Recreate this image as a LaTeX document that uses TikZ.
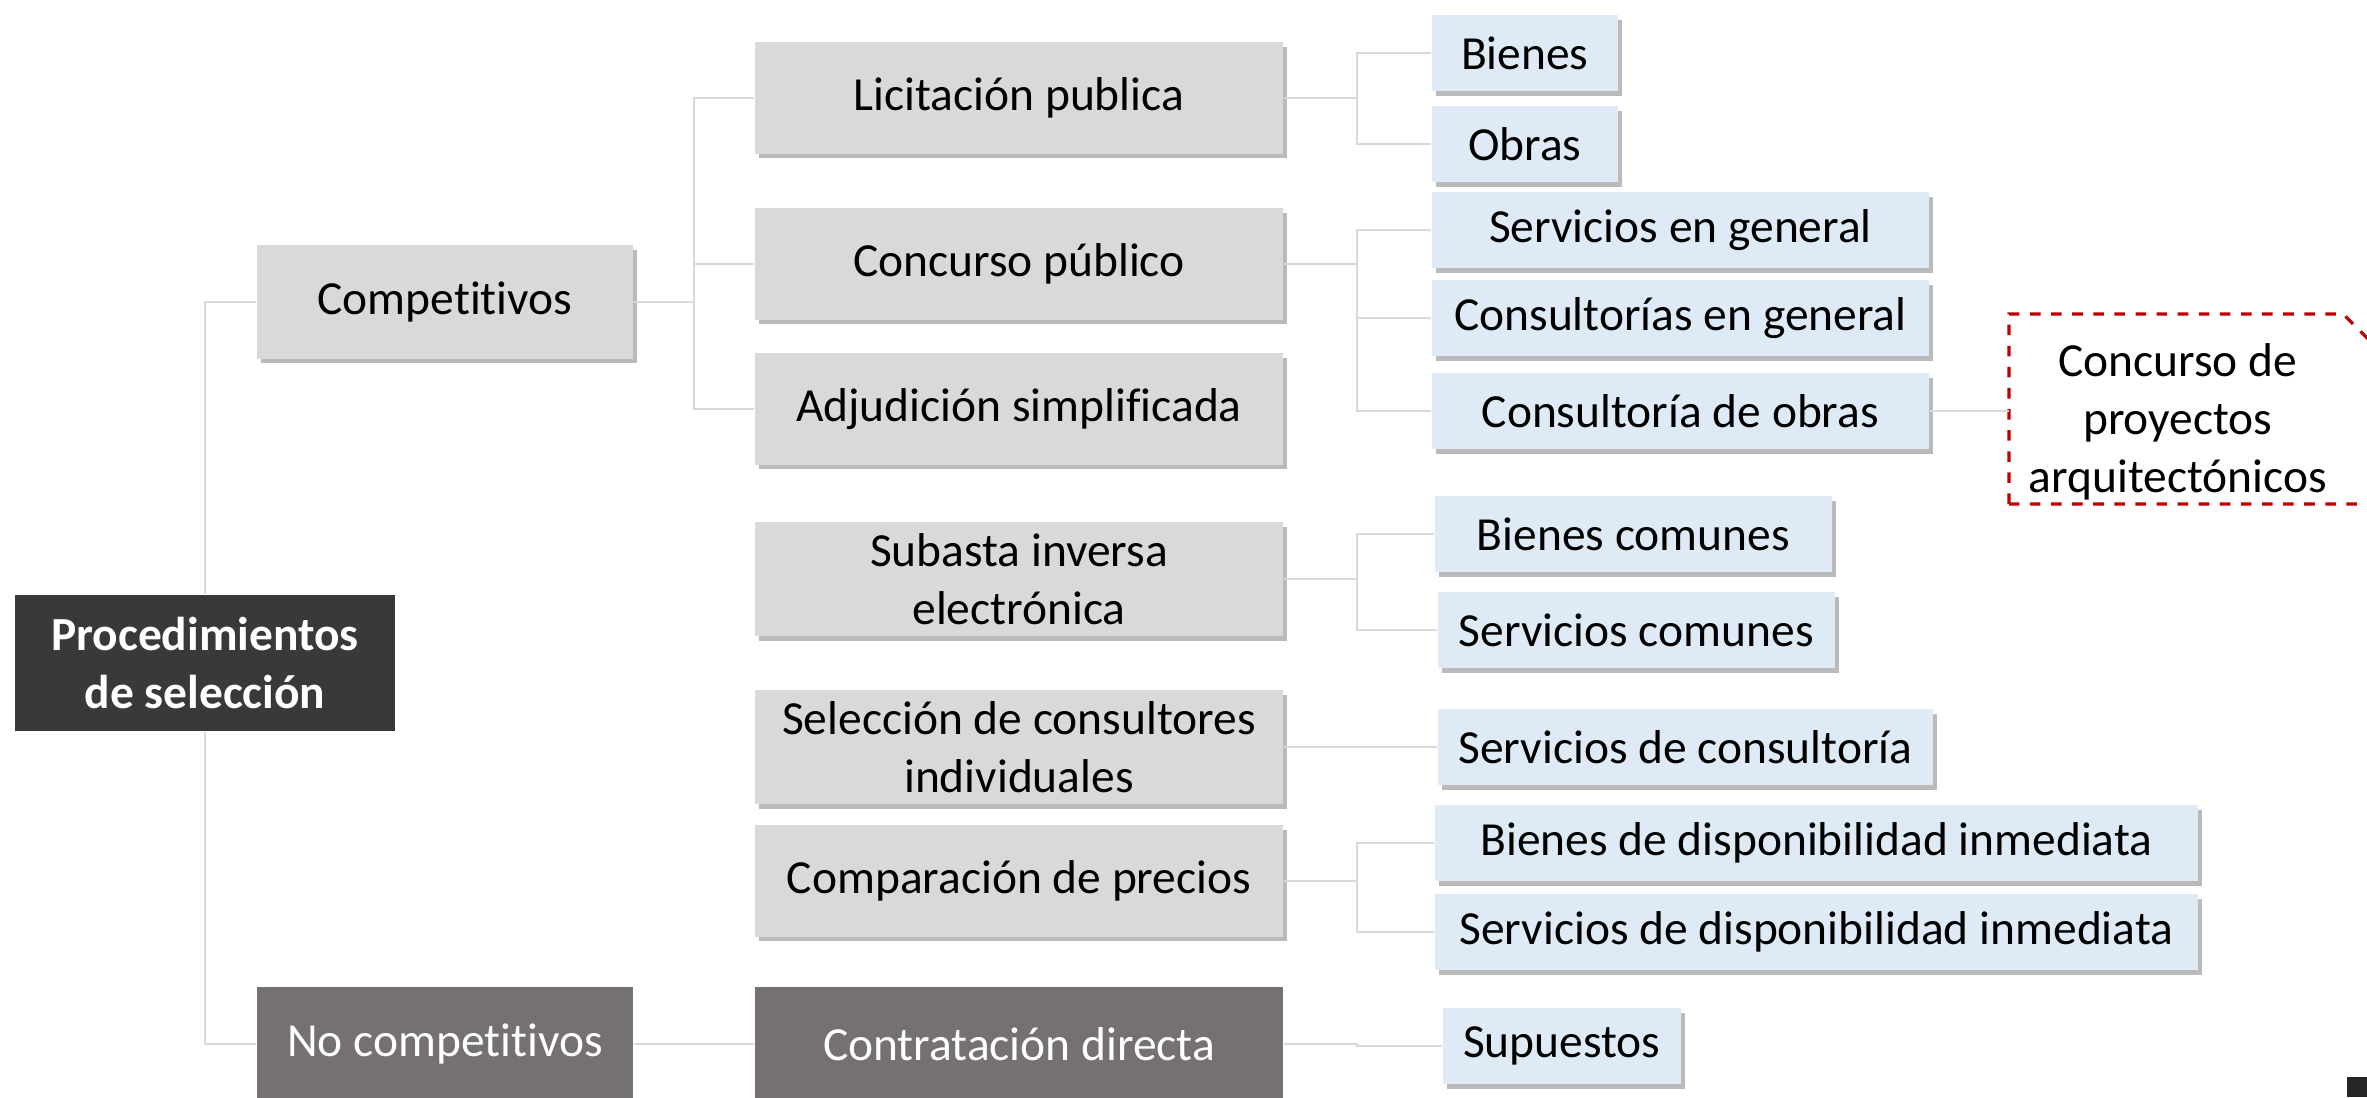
\documentclass[tikz,border=0pt]{standalone}
\usepackage{fontspec}
\setmainfont{Carlito}[RawFeature={-liga;-clig;-calt;-dlig}]
\usepackage{xcolor}
\usepackage{tikz}
\usetikzlibrary{shadows}
\definecolor{rootgray}{HTML}{3B3838}
\definecolor{nogray}{HTML}{767171}
\definecolor{boxgray}{HTML}{D9D9D9}
\definecolor{boxblue}{HTML}{DEEBF7}
\definecolor{linegray}{HTML}{D9D9D9}
\definecolor{dashred}{HTML}{C00000}

\begin{document}
\begin{tikzpicture}[x=0.01cm, y=-0.01cm, font=\fontsize{13.5}{16.5}\selectfont,
 shdw/.style = {drop shadow={shadow xshift=1.1pt, shadow yshift=-1.4pt, fill=black!45, opacity=0.6}},
 root/.style = {fill=rootgray, text=white, font=\fontsize{13.5}{16.5}\selectfont\bfseries, align=center, minimum width=3.79cm, minimum height=1.36cm},
 grp/.style = {fill=boxgray, minimum width=3.76cm, minimum height=1.13cm, shdw},
 nogrp/.style = {fill=nogray, text=white, minimum width=3.76cm, minimum height=1.13cm},
 proc/.style = {fill=boxgray, align=center, minimum width=5.28cm, minimum height=1.11cm, shdw},
 noproc/.style = {fill=nogray, text=white, minimum width=5.28cm, minimum height=1.13cm},
 item/.style = {fill=boxblue, anchor=west, minimum height=0.76cm, shdw},
 conn/.style = {draw=linegray, line width=0.6pt}]
\clip (0,0) rectangle (2367,1097);

\node[root] (ps) at (205,663) {Procedimientos\\de selección};
\node[grp] (comp) at (445,302) {Competitivos};
\node[nogrp] (nocomp) at (445,1044) {No competitivos};

\node[proc] (lp) at (1019,98) {Licitación publica};
\node[proc] (cp) at (1019,264) {Concurso público};
\node[proc] (as) at (1019,409) {Adjudición simplificada};
\node[proc] (sie) at (1019,579) {Subasta inversa\\electrónica};
\node[proc] (sci) at (1019,747) {Selección de consultores\\individuales};
\node[proc] (cpr) at (1019,881) {Comparación de precios};
\node[noproc] (cd) at (1019,1044) {Contratación directa};

\node[item, minimum width=1.86cm] (b) at (1431,53) {Bienes};
\node[item, minimum width=1.86cm] (o) at (1431,144) {Obras};
\node[item, minimum width=4.97cm] (sg) at (1431,230) {Servicios en general};
\node[item, minimum width=4.97cm] (cg) at (1431,318) {Consultorías en general};
\node[item, minimum width=4.97cm] (co) at (1431,411) {Consultoría de obras};
\node[item, minimum width=3.97cm] (bc) at (1434,534) {Bienes comunes};
\node[item, minimum width=3.97cm] (sc) at (1437,630) {Servicios comunes};
\node[item, minimum width=4.95cm] (scons) at (1437,747) {Servicios de consultoría};
\node[item, minimum width=7.63cm] (bdi) at (1434,843) {Bienes de disponibilidad inmediata};
\node[item, minimum width=7.63cm] (sdi) at (1434,932) {Servicios de disponibilidad inmediata};
\node[item, minimum width=2.38cm] (sup) at (1442,1046) {Supuestos};

\node[anchor=west, align=center, minimum width=3.36cm] (arq) at (2009,422) {Concurso de\\proyectos\\arquitectónicos};
\draw[dashred, dashed, line width=0.9pt] (2009,504) -- (2009,314) -- (2343,314) -- (2400,371) -- (2400,504) -- cycle;

\draw[conn] (ps.north) |- (comp.west);
\draw[conn] (ps.south) |- (nocomp.west);
\draw[conn] (comp.east) -- ++(60,0) |- (lp.west);
\draw[conn] (comp.east) -- ++(60,0) |- (cp.west);
\draw[conn] (comp.east) -- ++(60,0) |- (as.west);
\draw[conn] (nocomp.east) -- (cd.west);
\draw[conn] (lp.east) -- ++(73,0) |- (b.west);
\draw[conn] (lp.east) -- ++(73,0) |- (o.west);
\draw[conn] (cp.east) -- ++(73,0) |- (sg.west);
\draw[conn] (cp.east) -- ++(73,0) |- (cg.west);
\draw[conn] (cp.east) -- ++(73,0) |- (co.west);
\draw[conn] (co.east) -- (co.east -| arq.west);
\draw[conn] (sie.east) -- ++(73,0) |- (bc.west);
\draw[conn] (sie.east) -- ++(73,0) |- (sc.west);
\draw[conn] (sci.east) -- (scons.west);
\draw[conn] (cpr.east) -- ++(73,0) |- (bdi.west);
\draw[conn] (cpr.east) -- ++(73,0) |- (sdi.west);
\draw[conn] (cd.east) -- ++(73,0) |- (sup.west);

\fill[black!85] (2347,1077) rectangle (2367,1097);
\end{tikzpicture}
\end{document}
